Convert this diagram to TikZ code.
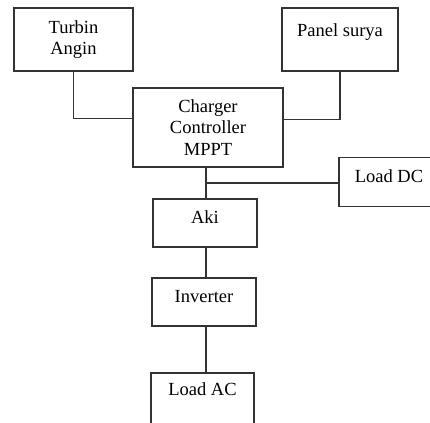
\documentclass[tikz,border=0pt]{standalone}
\usepackage{fontspec}
\setmainfont{Liberation Serif}

\begin{document}
\begin{tikzpicture}[x=1pt,y=-1pt,
   blok/.style={draw=black!80, line width=1.2pt, align=center, inner sep=0pt,
      font=\fontsize{18.5}{21.8}\selectfont},
   satu/.style={blok, text height=0.4em, text depth=0.4em},
   garis/.style={draw=black!80, line width=1.2pt}]

   \useasboundingbox (0,0) rectangle (430,422);

% Sumber energi
   \node[blok, minimum width=119pt, minimum height=63pt] (turbin) at (73.5,39.5) {Turbin\\Angin};
   \node[satu, minimum width=116pt, minimum height=63pt, text height=5pt, text depth=10pt] (panel) at (340,39.5) {Panel surya};
   \node[blok, minimum width=150pt, minimum height=79pt] (charger) at (208,127.5) {Charger\\Controller\\MPPT};

% Beban dan penyimpanan
   \node[satu, minimum width=100pt, minimum height=49pt] (loaddc) at (389,182) {Load DC};
   \node[satu, minimum width=104pt, minimum height=48pt] (aki) at (205,223) {Aki};
   \node[satu, minimum width=104pt, minimum height=48pt] (inverter) at (204,302) {Inverter};
   \node[satu, minimum width=103pt, minimum height=54pt, text height=2pt, text depth=12pt] (loadac) at (202.5,400) {Load AC};

   \coordinate (cabang) at (206,183);

   \draw[garis] (turbin.south) |- (charger.173.5);
   \draw[garis] (panel.south) |- (charger.6.5);
   \draw[garis] (cabang |- charger.south) -- (cabang |- aki.north);
   \draw[garis] (cabang) -- (loaddc.west |- cabang);
   \draw[garis] (cabang |- aki.south) -- (cabang |- inverter.north);
   \draw[garis] (cabang |- inverter.south) -- (cabang |- loadac.north);

\end{tikzpicture}
\end{document}
